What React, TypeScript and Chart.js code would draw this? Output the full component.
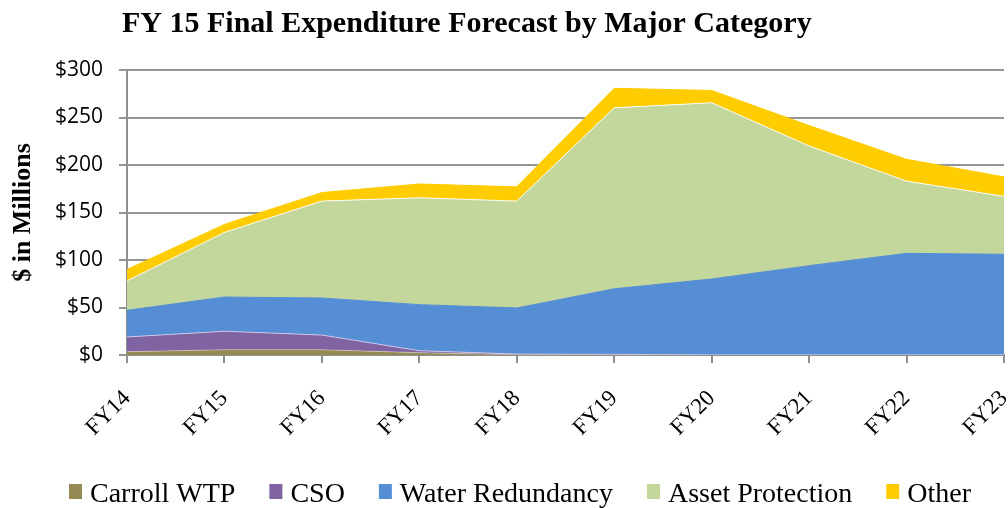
import React, { useEffect, useRef } from "react";
import { Chart, registerables } from "chart.js";

Chart.register(...registerables);

const TITLE = "FY 15 Final Expenditure Forecast by Major Category";
const Y_TITLE = "$ in Millions";
const categories = ["FY14", "FY15", "FY16", "FY17", "FY18", "FY19", "FY20", "FY21", "FY22", "FY23"];
const carrollWTP = [3.5, 5.5, 5.5, 2.5, 0.3, 0.2, 0, 0, 0, 0];
const cso = [15.5, 19.5, 15.5, 2, 0.7, 0.5, 0, 0, 0, 0];
const waterRedundancy = [28, 36, 39, 48.5, 48.5, 69, 80, 94, 107, 106];
const assetProtection = [31, 68, 102, 112.5, 112.5, 190.5, 185.5, 126, 76, 61];
const other = [12, 8.5, 9, 14.5, 15, 20.5, 13, 21.5, 23, 20.5];
const yTicks = [0, 50, 100, 150, 200, 250, 300];

const SERIF = '"Liberation Serif", "Times New Roman", serif';
const SANS = '"Open Sans", "DejaVu Sans", sans-serif';

const titlePlugin = {
  id: "customTitle",
  afterDraw(chart: any) {
    const ctx = chart.ctx;
    ctx.save();
    ctx.font = `bold 30px ${SERIF}`;
    ctx.fillStyle = "#000";
    ctx.textAlign = "left";
    ctx.textBaseline = "alphabetic";
    ctx.fillText(TITLE, 122, 32);
    ctx.restore();
  },
};

const legendPlugin = {
  id: "customLegend",
  afterDraw(chart: any) {
    const ctx = chart.ctx;
    const datasets = chart.data.datasets;
    ctx.save();
    ctx.font = `28px ${SERIF}`;
    ctx.textAlign = "left";
    ctx.textBaseline = "alphabetic";
    const box = 13;
    const gap = 8;
    const itemGap = 34;
    const widths = datasets.map((d: any) => box + gap + ctx.measureText(d.label).width);
    const total = widths.reduce((a: number, b: number) => a + b, 0) + itemGap * (datasets.length - 1);
    let x = 520 - total / 2;
    const baseline = 502;
    datasets.forEach((d: any, i: number) => {
      ctx.fillStyle = d.backgroundColor;
      ctx.fillRect(x, 484, box, 15);
      ctx.fillStyle = "#000";
      ctx.fillText(d.label, x + box + gap, baseline);
      x += widths[i] + itemGap;
    });
    ctx.restore();
  },
};

export default function App() {
  const ref = useRef<HTMLCanvasElement | null>(null);

  useEffect(() => {
    document.body.style.margin = "0";
    const mk = (label: string, data: number[], color: string, fill: any, border: string) => ({
      label,
      data,
      backgroundColor: color,
      borderColor: border,
      borderWidth: 1,
      fill,
      pointRadius: 0,
      pointHoverRadius: 0,
      tension: 0,
    });
    const chart = new Chart(ref.current as HTMLCanvasElement, {
      type: "line",
      data: {
        labels: categories,
        datasets: [
          mk("Carroll WTP", carrollWTP, "#948A54", "origin", "rgba(255,255,255,0.35)"),
          mk("CSO", cso, "#8064A2", "-1", "rgba(220,210,240,0.8)"),
          mk("Water Redundancy", waterRedundancy, "#558ED5", "-1", "rgba(85,142,213,1)"),
          mk("Asset Protection", assetProtection, "#C3D69B", "-1", "rgba(255,255,255,0.9)"),
          mk("Other", other, "#FFCC00", "-1", "#FFCC00"),
        ],
      },
      options: {
        animation: false,
        responsive: false,
        maintainAspectRatio: false,
        layout: { padding: { top: 70, right: 4, left: 8, bottom: 53 } },
        plugins: {
          title: { display: false },
          tooltip: { enabled: false },
          legend: { display: false },
        },
        scales: {
          x: {
            offset: false,
            grid: {
              display: true,
              drawOnChartArea: false,
              drawTicks: true,
              tickLength: 8,
              color: "#8f8f8f",
              lineWidth: 2,
            },
            border: { display: true, color: "#8f8f8f", width: 2 },
            ticks: {
              color: "#000",
              font: { family: SERIF, size: 23 },
              maxRotation: 45,
              minRotation: 45,
              padding: 22,
              autoSkip: false,
            },
            afterFit: (s: any) => {
              s.height = 100;
              s.paddingLeft = 0;
              s.paddingRight = 0;
            },
          },
          y: {
            stacked: true,
            min: 0,
            max: 300,
            afterBuildTicks: (s: any) => {
              s.ticks = yTicks.map((v) => ({ value: v }));
            },
            grid: {
              color: "#959595",
              lineWidth: 2,
              tickLength: 8,
            },
            border: { display: true, color: "#8f8f8f", width: 2 },
            ticks: {
              color: "#000",
              font: { family: SANS, size: 21 },
              padding: 16,
              callback: (v: any) => "$" + v,
            },
            title: {
              display: true,
              text: Y_TITLE,
              color: "#000",
              font: { family: SERIF, size: 26, weight: "bold" },
              padding: { top: 0, bottom: 4 },
            },
            afterFit: (s: any) => {
              s.width = 119;
              s.paddingTop = 0;
              s.paddingBottom = 0;
            },
          },
        },
      },
      plugins: [titlePlugin, legendPlugin],
    } as any);
    return () => chart.destroy();
  }, []);

  return (
    <div style={{ position: "absolute", left: 0, top: 0, width: 1008, height: 508 }}>
      <canvas ref={ref} width={1008} height={508} style={{ width: 1008, height: 508, display: "block" }} />
    </div>
  );
}
